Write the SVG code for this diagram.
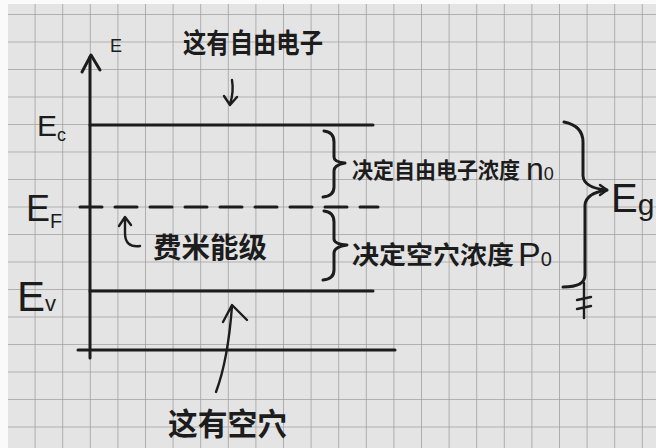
<svg xmlns="http://www.w3.org/2000/svg" width="656" height="448" viewBox="0 0 656 448">
<style>
.ink{stroke:#1c1c1c;stroke-width:3;fill:none;stroke-linecap:round;stroke-linejoin:round}
.thin{stroke:#1c1c1c;stroke-width:2.4;fill:none;stroke-linecap:round;stroke-linejoin:round}
.t{fill:#1c1c1c;font-family:"Liberation Sans","Noto Sans CJK SC",sans-serif}
.cjk{fill:#1c1c1c;font-family:"Noto Sans CJK SC","Liberation Sans",sans-serif;font-weight:bold}
</style>
<defs>
<pattern id="grid" width="27.6" height="27.5" patternUnits="userSpaceOnUse" x="7" y="14">
<path d="M0 0V27.5M0 0H27.6" stroke="#a0a0a0" stroke-width="1.6" fill="none"/>
</pattern>
</defs>
<rect width="656" height="448" fill="#e4e4e4"/>
<rect width="656" height="448" fill="url(#grid)"/>
<rect x="0" y="0" width="8" height="448" fill="#fafafa"/>
<rect x="0" y="0" width="656" height="4" fill="#fafafa"/>
<g id="axes">
<path class="ink" d="M90 57V358"/>
<path class="ink" d="M82 72L91 55L100 70"/>
<path class="ink" d="M78 350H395"/>
<text class="t" x="110" y="52" font-size="18">E</text>
</g>
<g id="ec-level">
<path class="ink" d="M90 125H373"/>
<text class="t" x="37" y="136" font-size="30">E<tspan font-size="18" dy="5">c</tspan></text>
</g>
<g id="ef-level">
<path class="ink" d="M80 207H378" stroke-dasharray="22 13"/>
<text class="t" x="26" y="221" font-size="36">E<tspan font-size="20" dy="7">F</tspan></text>
<path class="thin" d="M140 246Q125 248 125 233V218M119 226L125 217L131 225"/>
<text class="cjk" x="153" y="258" font-size="28" textLength="114" lengthAdjust="spacingAndGlyphs">费米能级</text>
</g>
<g id="ev-level">
<path class="ink" d="M90 291H373"/>
<text class="t" x="17" y="311" font-size="42">E<tspan font-size="22" dy="0">v</tspan></text>
</g>
<g id="label-electrons">
<text class="cjk" x="183" y="53" font-size="27" textLength="140" lengthAdjust="spacingAndGlyphs">这有自由电子</text>
</g>
<g id="label-holes">
<text class="cjk" x="168" y="435" font-size="31" textLength="119" lengthAdjust="spacingAndGlyphs">这有空穴</text>
</g>
<g id="brace-n0">
<path class="ink" d="M324 131Q334 132 334 142V157Q334 162 345 163Q334 165 334 171V187Q334 196 323 197"/>
<text class="cjk" x="352" y="178" font-size="22" textLength="168" lengthAdjust="spacingAndGlyphs">决定自由电子浓度</text>
<text class="t" x="526" y="180" font-size="32">n<tspan font-size="18" dy="0">0</tspan></text>
</g>
<g id="brace-p0">
<path class="ink" d="M324 211Q334 212 334 222V239Q334 244 347 245Q334 247 334 253V270Q334 279 323 280"/>
<text class="cjk" x="352" y="264" font-size="25" textLength="162" lengthAdjust="spacingAndGlyphs">决定空穴浓度</text>
<text class="t" x="518" y="266" font-size="34">P<tspan font-size="20" dy="0">0</tspan></text>
</g>
<g id="brace-eg">
<path class="ink" d="M564 122Q583 126 583 142V176Q584 188 607 190Q586 193 585 205V275Q585 287 563 287"/>
<path class="thin" d="M600 185L607 190L600 195"/>
<path class="thin" d="M584 283V318M577 300L591 297M577 309L591 306"/>
<text class="t" x="611" y="212" font-size="40">E<tspan font-size="30" dy="3">g</tspan></text>
</g>
<g id="connectors">
<path class="thin" d="M232 80Q234 92 230 104M224 96L230 105L237 97"/>
<path class="thin" d="M216 392Q228 360 232 306M223 322L232 305L247 320"/>
</g>
</svg>
